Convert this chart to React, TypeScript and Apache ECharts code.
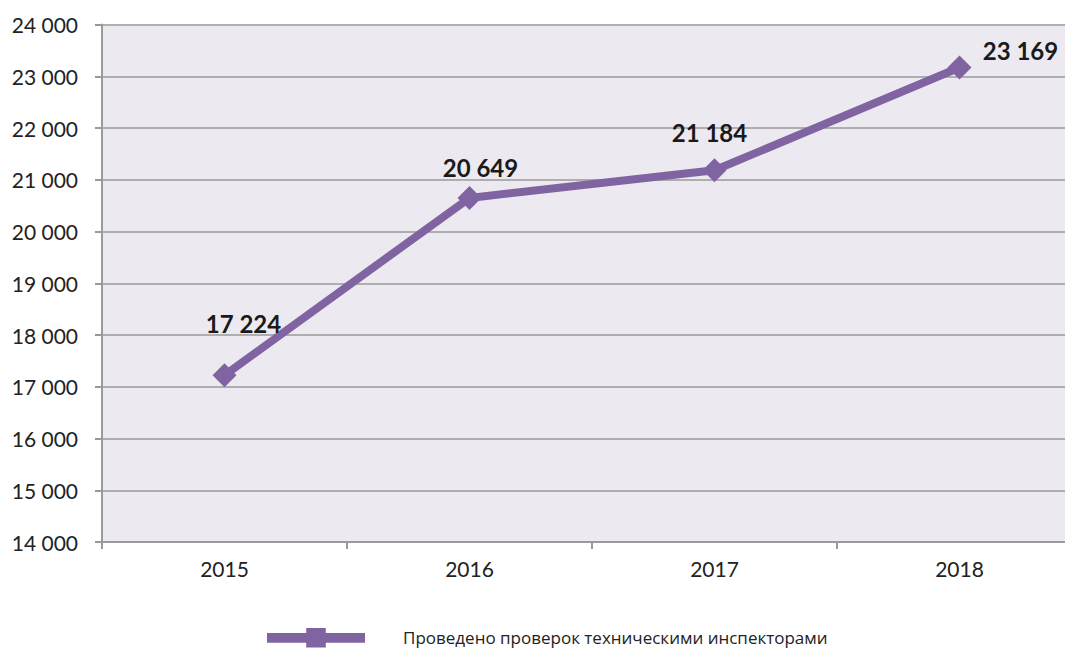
import React, { useEffect, useRef } from "react";
import * as echarts from "echarts";

const years = ["2015", "2016", "2017", "2018"];
const inspections = [17224, 20649, 21184, 23169];
const seriesName = "Проведено проверок техническими инспекторами";
const labelOffsets: [number, number][] = [
  [19, -23],
  [11, -1],
  [-5, -9],
  [61, 12],
];

const fmt = (v: number) => String(v).replace(/\B(?=(\d{3})+(?!\d))/g, " ");

const legendIcon =
  "path://M0,5 L40,5 L40,0 L60,0 L60,5 L100,5 L100,15 L60,15 L60,20 L40,20 L40,15 L0,15 Z";

export default function App() {
  const ref = useRef<HTMLDivElement>(null);
  useEffect(() => {
    if (!ref.current) return;
    const chart = echarts.init(ref.current, null, { renderer: "svg" });
    const color = "#8064A2";
    chart.setOption({
      animation: false,
      backgroundColor: "#ffffff",
      textStyle: { fontFamily: "Lato, 'Open Sans', sans-serif" },
      grid: {
        left: 102,
        width: 980,
        top: 24.5,
        bottom: 106,
        show: true,
        backgroundColor: "#ECEAF0",
        borderWidth: 0,
        containLabel: false,
        outerBoundsMode: "none",
      },
      legend: {
        left: 262,
        top: 623,
        itemWidth: 98,
        itemHeight: 20,
        data: [{ name: seriesName, icon: legendIcon, itemStyle: { color } }],
        textStyle: {
          fontFamily: "'Liberation Sans Narrow', 'Open Sans', sans-serif",
          fontSize: 17,
          color: "#222",
          padding: [0, 0, 0, 33],
        },
      },
      xAxis: {
        type: "category",
        data: years,
        boundaryGap: true,
        axisLine: { lineStyle: { color: "#9A9A9A", width: 2 } },
        axisTick: { show: true, length: 7, lineStyle: { color: "#9A9A9A", width: 2 } },
        axisLabel: { fontSize: 21, color: "#222", margin: 16 },
      },
      yAxis: {
        type: "value",
        min: 14000,
        max: 24000,
        interval: 1000,
        axisLine: { show: true, lineStyle: { color: "#9A9A9A", width: 2 } },
        axisTick: { show: true, length: 7, lineStyle: { color: "#9A9A9A", width: 2 } },
        splitLine: { lineStyle: { color: "#9A9A9A", width: 1.5 } },
        axisLabel: { fontSize: 21, color: "#222", margin: 24, formatter: (v: number) => fmt(v) },
      },
      series: [
        {
          name: seriesName,
          type: "line",
          data: inspections.map((v, i) => ({
            value: v,
            label: { offset: labelOffsets[i] },
          })),
          symbol: "diamond",
          symbolSize: 24,
          itemStyle: { color },
          lineStyle: { color, width: 8 },
          label: {
            show: true,
            position: "top",
            fontSize: 24,
            fontWeight: "bold",
            color: "#1a1a1a",
            formatter: (p: any) => fmt(p.value),
          },
        },
      ],
    });
    return () => chart.dispose();
  }, []);
  return (
    <div
      ref={ref}
      style={{ position: "fixed", left: 0, top: 0, width: 1065, height: 648 }}
    />
  );
}
